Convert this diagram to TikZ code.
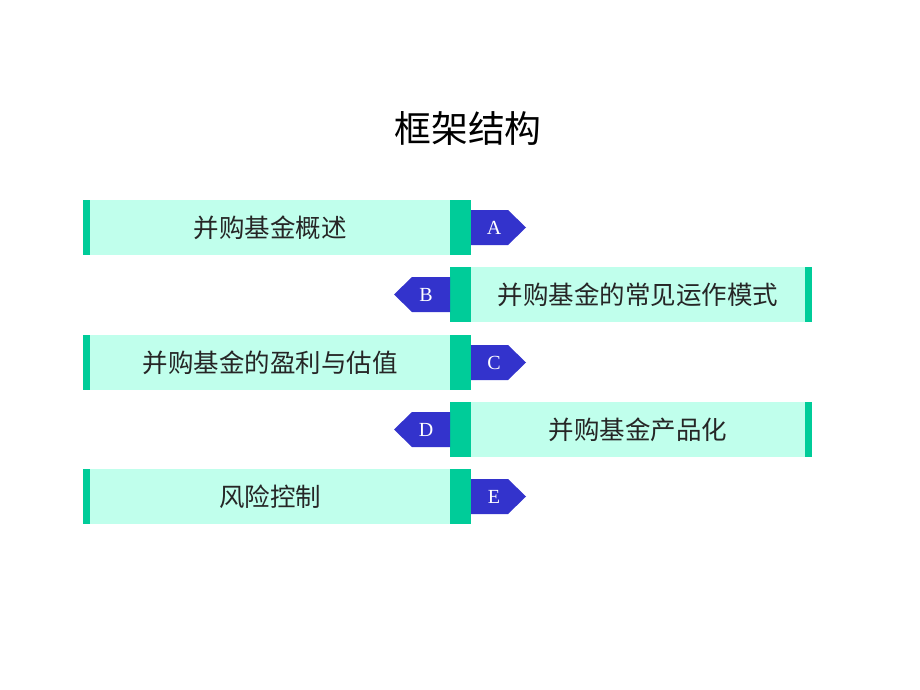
\documentclass[tikz,border=0pt]{standalone}
\usepackage{fontspec}
\setmainfont{Liberation Serif}
\newfontfamily\cjk{Noto Sans CJK SC}
\definecolor{mint}{RGB}{192,255,236}
\definecolor{sea}{RGB}{0,204,153}
\definecolor{tagblue}{RGB}{51,51,204}
\begin{document}
\begin{tikzpicture}[x=1pt,y=-1pt,
  band/.style={fill=mint,draw=none},
  bar/.style={fill=sea,draw=none},
  tag/.style={fill=tagblue,draw=none},
  label/.style={font=\cjk\fontsize{25.5}{25.5}\selectfont,text=black!85,inner sep=0pt},
  letter/.style={font=\fontsize{20}{20}\selectfont,text=white,inner sep=0pt}]
\useasboundingbox (0,0) rectangle (920,690);
\node[font=\cjk\fontsize{36.8}{36.8}\selectfont,inner sep=0pt] (title) at (468,128) {框架结构};
% left rows (A, C, E)
\foreach \t/\l/\txt in {200/A/并购基金概述, 335/C/并购基金的盈利与估值, 469/E/风险控制}{
  \fill[band] (83,\t) rectangle (471,\t+55);
  \fill[bar] (83,\t) rectangle (90,\t+55);
  \fill[bar] (450,\t) rectangle (471,\t+55);
  \fill[tag] (471,\t+10) -- (508,\t+10) -- (526,\t+27.5) -- (508,\t+45) -- (471,\t+45) -- cycle;
  \node[label] (box\l) at (270,\t+27.5) {\txt};
  \node[letter] (tag\l) at (494,\t+27.5) {\l};
}
% right rows (B, D)
\foreach \t/\l/\txt in {267/B/并购基金的常见运作模式, 402/D/并购基金产品化}{
  \fill[band] (450,\t) rectangle (812,\t+55);
  \fill[bar] (450,\t) rectangle (471,\t+55);
  \fill[bar] (805,\t) rectangle (812,\t+55);
  \fill[tag] (450,\t+10) -- (412,\t+10) -- (394,\t+27.5) -- (412,\t+45) -- (450,\t+45) -- cycle;
  \node[label] (box\l) at (638,\t+27.5) {\txt};
  \node[letter] (tag\l) at (426,\t+27.5) {\l};
}
\end{tikzpicture}
\end{document}
